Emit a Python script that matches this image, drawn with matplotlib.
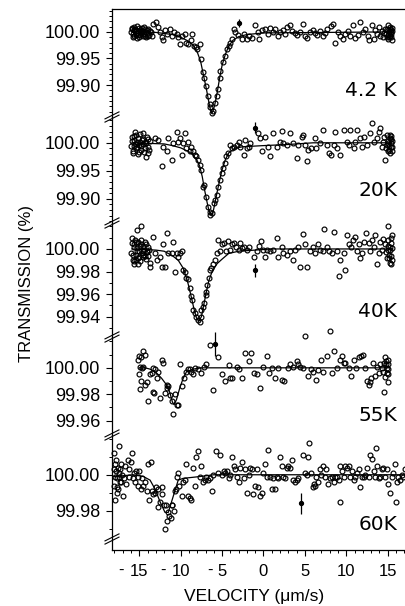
import matplotlib
matplotlib.use('Agg')
import matplotlib.pyplot as plt
from matplotlib.lines import Line2D

plt.rcParams['font.family'] = ['Liberation Sans', 'DejaVu Sans']
plt.rcParams['axes.unicode_minus'] = False

# ---- data: (velocity um/s, transmission %) ----
pts_4K = [(-15.9,100.008),(-15.8,99.996),(-15.7,100.003),(-15.6,99.992),(-15.5,100.006),(-15.4,99.998),
    (-15.3,100.011),(-15.2,99.994),(-15.1,100.002),(-15.0,99.990),(-14.9,100.004),(-14.8,99.997),(-14.7,100.008),
    (-14.6,99.993),(-14.5,100.001),(-14.4,99.996),(-14.3,100.006),(-14.2,99.991),(-14.1,100.003),(-14.0,99.998),
    (-13.9,100.005),(-13.8,99.995),(-13.7,100.002),(-13.6,99.999),(-13.5,99.993),(-13.3,100.015),(-13.0,100.018),
    (-15.95,99.999),(-15.85,100.005),(-15.75,99.990),(-15.65,100.009),(-15.45,99.995),(-15.35,100.002),
    (-15.25,99.988),(-15.05,100.007),(-14.95,99.994),(-14.85,100.001),(-14.65,99.999),(-14.45,100.009),
    (-14.35,99.993),(-14.15,99.999),(-13.95,99.992),
    (-12.8,100.009),(-12.5,99.999),(-12.3,99.990),(-12.1,99.984),(-11.9,100.003),(-11.6,99.996),(-11.3,100.006),
    (-11.1,99.993),(-10.8,99.999),(-10.5,99.996),(-10.3,99.990),(-10.1,99.977),(-9.8,99.993),(-9.5,99.996),
    (-9.4,99.980),(-9.1,99.977),(-8.8,99.984),(-8.6,99.996),(-8.4,99.974),(-8.1,99.971),(-8.0,99.968),(-7.7,99.977),
    (-7.6,99.949),(-7.3,99.924),(-7.2,99.914),(-6.9,99.899),(-6.7,99.880),(-6.5,99.864),(-6.4,99.858),(-6.2,99.847),
    (-6.05,99.851),(-5.85,99.867),(-5.65,99.880),(-5.5,99.892),(-5.3,99.914),(-5.2,99.927),(-4.9,99.943),(-4.7,99.955),
    (-4.4,99.968),(-4.2,99.974),(-4.0,99.980),(-3.8,99.986),(-3.6,100.006),(-3.4,99.999),(-3.1,99.994),
    (-2.6,99.987),(-2.3,99.996),(-2.0,99.987),(-1.7,99.993),(-1.4,99.988),(-1.0,100.012),(-0.7,99.999),(-0.5,99.987),
    (-0.2,100.003),(0.2,100.006),(0.5,99.996),(0.8,100.007),(1.1,99.999),(1.4,100.006),(1.7,99.993),(2.0,99.999),
    (2.3,100.004),(2.6,99.996),(2.9,100.009),(3.2,100.012),(3.5,100.001),(3.8,99.998),(4.1,99.994),(4.4,99.999),
    (4.8,100.015),(5.0,99.993),(5.3,99.988),(5.6,99.999),(6.0,100.003),(6.2,99.998),(6.5,99.994),(6.8,100.001),
    (7.2,99.992),(7.4,99.998),(7.7,100.006),(8.1,100.011),(8.4,100.015),(8.7,99.980),(9.0,99.999),(9.3,99.993),
    (9.6,99.986),(9.9,99.996),(10.2,100.001),(10.5,99.993),(10.8,100.012),(11.1,99.988),(11.4,99.994),(11.7,100.018),
    (12.0,99.999),(12.3,100.006),(12.6,99.992),(12.8,99.984),(13.1,100.013),(13.3,99.986),(13.5,100.004),(13.7,99.996),
    (13.9,100.009),(14.1,99.993),(14.3,100.001),(14.5,99.990),(14.7,100.006),(14.8,99.996),(15.0,99.986),(15.1,100.012),
    (15.2,99.999),(15.3,99.992),(15.4,100.004),(15.5,99.984),(15.4,99.996),(15.0,100.003),(15.2,99.991),(15.5,100.007),
    (14.6,99.997),(14.9,100.005),(15.05,99.994),(15.25,100.006),(15.35,99.999),(15.45,99.990),(15.5,100.002),
    (15.3,100.010),(14.95,99.990)]
fit_4K = [(-15.9,100.000),(-13.0,99.999),(-11.0,99.995),(-10.0,99.990),(-9.0,99.982),(-8.5,99.975),(-8.0,99.962),
    (-7.6,99.945),(-7.2,99.915),(-6.9,99.893),(-6.6,99.868),(-6.4,99.853),(-6.25,99.847),(-6.1,99.851),(-5.9,99.862),
    (-5.6,99.885),(-5.3,99.913),(-5.0,99.937),(-4.6,99.958),(-4.2,99.973),(-3.7,99.984),(-3.0,99.991),(-2.0,99.995),
    (0.0,99.998),(15.5,100.000)]
err_4K = (-3.0, 100.017, 0.007)

pts_20K = [(-15.9,100.004),(-15.8,99.985),(-15.7,100.012),(-15.6,99.994),(-15.5,100.019),(-15.4,99.990),
    (-15.3,100.002),(-15.2,99.980),(-15.1,100.008),(-15.0,99.996),(-14.9,100.015),(-14.8,99.988),(-14.7,100.005),
    (-14.6,99.998),(-14.5,100.018),(-14.4,99.984),(-14.3,100.001),(-14.2,99.974),(-14.1,100.010),(-14.0,99.993),
    (-13.9,100.006),(-13.8,99.987),(-13.7,100.003),
    (-15.95,99.995),(-15.85,100.010),(-15.75,99.982),(-15.65,100.005),(-15.45,99.997),(-15.35,100.014),
    (-15.25,99.992),(-15.05,99.984),(-14.95,100.002),(-14.75,99.994),(-14.55,100.006),(-14.35,99.991),
    (-14.15,100.000),(-13.95,99.982),
    (-13.1,100.008),(-12.7,100.005),(-12.3,99.958),(-12.1,99.993),
    (-11.7,99.985),(-11.5,100.008),(-11.1,99.970),(-10.9,99.999),(-10.5,100.020),(-10.3,100.002),(-10.1,100.008),
    (-9.9,99.979),(-9.7,99.999),(-9.5,100.017),(-9.3,99.990),(-9.1,100.002),(-8.9,99.985),(-8.7,99.993),(-8.5,99.985),
    (-8.3,99.979),(-8.1,99.976),(-7.9,99.970),(-7.7,99.961),(-7.5,99.952),(-7.3,99.922),(-7.2,99.925),(-6.9,99.904),
    (-6.7,99.886),(-6.5,99.877),(-6.4,99.871),(-6.2,99.874),(-6.0,99.892),(-5.85,99.898),(-5.65,99.907),(-5.45,99.922),
    (-5.25,99.934),(-5.0,99.946),(-4.9,99.955),(-4.7,99.964),(-4.5,99.976),(-4.3,99.982),(-4.1,99.996),(-3.8,99.990),
    (-3.5,99.993),(-3.2,99.996),(-3.0,100.002),(-2.8,99.993),(-2.4,99.979),(-2.2,100.005),(-2.0,99.990),(-1.8,99.993),
    (-1.6,99.999),(-0.6,100.017),(-0.4,100.008),(-0.2,99.985),(0.2,100.011),(0.6,99.993),(0.8,99.976),(1.2,100.017),
    (1.6,99.993),(2.0,100.002),(2.2,100.021),(2.4,99.999),(2.8,99.996),(3.2,100.017),(3.6,99.999),(4.0,99.973),
    (4.2,99.996),(4.6,100.011),(4.8,100.014),(5.0,99.996),(5.2,99.967),(5.4,99.988),(5.8,99.990),(6.2,100.008),
    (6.4,99.990),(6.8,99.999),(7.2,100.023),(7.7,99.996),(7.9,99.982),(8.1,99.979),(8.5,99.996),(8.7,100.020),
    (8.9,99.990),(9.3,99.979),(9.7,100.023),(10.1,100.002),(10.3,99.996),(10.5,100.023),(10.9,99.990),(11.1,100.002),
    (11.3,100.023),(11.7,100.008),(11.9,99.993),(12.1,100.011),(12.5,99.996),(12.9,100.017),(13.1,100.035),
    (13.3,100.002),(13.7,100.008),(13.9,100.020),(14.1,100.026),(14.3,99.993),(14.5,100.002),(14.7,99.970),
    (14.9,100.014),(15.1,99.999),(15.3,100.008),(15.5,99.993),(15.2,99.988),(15.0,100.004),(14.8,99.991),
    (15.4,100.012),(15.3,99.982),(14.6,100.010),(15.5,100.003),(15.1,99.985),
    (15.45,99.992),(15.35,100.000),(15.25,100.014),(15.15,99.994),(14.95,99.996),(15.5,99.985),(15.4,100.006)]
fit_20K = [(-15.9,100.000),(-12.0,99.998),(-11.0,99.995),(-10.0,99.991),(-9.0,99.984),(-8.5,99.978),(-8.0,99.968),
    (-7.7,99.958),(-7.4,99.940),(-7.1,99.915),(-6.8,99.893),(-6.6,99.880),(-6.4,99.873),(-6.25,99.872),(-6.1,99.876),
    (-5.9,99.890),(-5.6,99.912),(-5.3,99.933),(-5.0,99.952),(-4.6,99.970),(-4.2,99.982),(-3.5,99.990),(-2.5,99.993),
    (0.0,99.995),(3.0,99.997),(6.0,100.000),(15.5,100.000)]
err_20K = (-1.0, 100.027, 0.010)

pts_40K = [(-15.9,100.005),(-15.8,99.990),(-15.7,100.002),(-15.6,99.987),(-15.5,100.008),(-15.4,99.995),
    (-15.3,100.001),(-15.2,99.992),(-15.1,100.006),(-15.0,99.998),(-14.9,99.989),(-14.8,100.004),(-14.7,99.996),
    (-14.6,100.003),(-14.5,99.993),(-14.4,99.999),(-14.3,100.006),(-14.2,99.991),(-14.1,99.997),(-14.0,100.002),
    (-13.9,99.994),(-13.8,99.999),(-13.7,99.988),(-15.3,100.017),(-14.8,100.020),(-15.7,99.989),(-15.1,99.987),
    (-15.95,99.996),(-15.85,100.010),(-15.75,99.995),(-15.65,100.004),(-15.45,99.990),(-15.35,100.006),
    (-15.25,99.998),(-15.05,99.993),(-14.95,100.003),(-14.75,100.008),(-14.55,99.998),(-14.35,99.994),
    (-14.15,100.004),
    (-14.5,99.995),(-14.1,99.998),(-13.7,99.984),(-13.3,100.011),(-13.1,99.996),(-12.9,99.990),(-12.5,99.993),
    (-12.3,99.984),(-12.1,100.004),(-11.9,99.984),(-11.7,100.014),(-11.5,99.996),(-11.1,99.996),(-10.9,100.006),
    (-10.7,99.980),(-10.5,99.996),(-10.3,99.993),(-10.1,99.996),(-9.9,99.998),(-9.7,99.981),(-9.5,99.980),
    (-9.3,99.974),(-9.1,99.973),(-8.9,99.965),(-8.7,99.958),(-8.6,99.955),(-8.5,99.946),(-8.3,99.943),(-8.1,99.940),
    (-7.9,99.937),(-7.7,99.935),(-7.6,99.940),(-7.5,99.946),(-7.3,99.949),(-7.2,99.952),(-7.0,99.959),(-6.9,99.962),
    (-6.8,99.968),(-6.6,99.974),(-6.5,99.981),(-6.3,99.983),(-6.05,99.987),(-5.85,99.990),(-5.65,99.996),
    (-5.45,100.008),(-5.25,99.998),(-5.05,100.004),(-4.8,100.005),(-4.5,99.998),(-4.3,100.007),(-4.0,99.999),
    (-3.8,100.004),(-3.5,100.005),(-3.3,100.002),(-3.0,99.999),(-2.8,100.005),(-2.6,100.001),(-2.4,100.002),
    (-2.0,99.999),(-1.8,100.002),(-1.2,99.993),(-0.8,99.998),(-0.5,100.003),(-0.3,100.007),(0.0,99.999),(0.2,99.993),
    (0.4,99.999),(0.8,99.998),(1.2,99.999),(1.6,100.010),(1.8,99.993),(2.2,100.002),(2.4,99.996),(2.8,99.995),
    (3.2,99.998),(3.6,99.990),(3.8,99.999),(4.2,100.002),(4.4,99.984),(4.8,100.013),(5.0,100.004),(5.2,99.984),
    (5.6,99.998),(6.0,100.002),(6.2,99.996),(6.6,100.004),(6.8,99.999),(7.2,99.998),(7.3,100.018),(7.7,100.002),
    (7.9,99.998),(8.3,99.996),(8.5,100.015),(8.9,99.998),(9.1,99.976),(9.3,99.990),(9.7,99.996),(9.9,99.981),
    (10.1,100.012),(10.3,100.004),(10.6,100.002),(10.8,100.008),(11.0,100.011),(11.3,99.998),(11.5,100.004),
    (11.7,99.992),(11.9,99.996),(12.2,100.006),(12.4,100.014),(12.7,100.005),(12.9,99.998),(13.1,100.008),
    (13.3,100.002),(13.5,100.012),(13.7,99.987),(13.9,99.996),(14.1,100.006),(14.3,99.999),(14.5,100.009),
    (14.7,100.004),(14.9,99.992),(15.1,100.020),(15.3,99.999),(15.5,99.990),(15.4,100.005),(15.2,99.995),
    (15.0,100.008),(15.5,100.001),(15.3,99.988),(14.8,99.997),(15.1,100.003),
    (15.45,99.994),(15.35,100.010),(15.25,100.002),(15.15,99.992),(15.05,99.999),(15.5,100.012),(15.4,99.987)]
fit_40K = [(-15.9,100.000),(-13.0,99.999),(-12.0,99.998),(-11.0,99.994),(-10.3,99.990),(-9.7,99.983),(-9.2,99.972),
    (-8.8,99.960),(-8.4,99.947),(-8.1,99.939),(-7.8,99.936),(-7.5,99.940),(-7.2,99.951),(-6.9,99.962),(-6.6,99.972),
    (-6.2,99.980),(-5.6,99.987),(-5.0,99.991),(-4.2,99.996),(-3.0,99.998),(-1.0,99.999),(1.0,100.000),(15.5,100.000)]
err_40K = (-1.0, 99.981, 0.006)

pts_55K = [(-15.1,100.006),(-15.0,100.009),(-14.8,100.008),(-14.6,100.013),(-14.3,100.010),(-14.9,100.001),
    (-14.7,100.000),(-14.5,100.001),(-15.0,99.995),(-14.8,99.990),(-14.9,99.984),(-14.3,99.987),(-14.1,99.989),
    (-13.9,99.975),(-13.7,99.995),(-13.5,99.996),(-13.3,100.000),(-13.1,99.999),(-13.4,99.982),(-13.2,99.981),
    (-12.9,99.992),(-12.7,99.997),(-12.5,99.977),(-12.3,100.006),(-12.1,100.004),(-11.9,99.981),(-11.7,99.987),
    (-11.6,99.985),(-11.5,99.986),(-11.3,99.979),(-11.1,99.975),(-10.9,99.965),(-10.7,99.980),(-10.5,99.972),
    (-10.3,99.972),(-10.1,100.003),(-9.9,99.986),(-9.6,99.992),(-9.3,99.997),(-9.1,99.999),(-8.9,99.999),
    (-8.7,99.997),(-8.5,99.995),(-8.3,100.000),(-7.9,99.999),(-7.5,99.996),(-7.2,100.001),(-6.9,100.003),
    (-6.5,100.017),(-6.05,99.983),(-5.45,100.008),(-5.05,99.995),(-4.6,99.990),(-4.2,100.002),(-4.0,99.992),
    (-3.8,99.992),(-3.2,100.001),(-2.9,99.999),(-2.6,99.992),(-2.2,100.011),(-1.8,100.005),(-1.5,100.011),
    (-1.2,99.996),(-0.8,99.995),(-0.4,99.985),(0.0,100.001),(0.4,100.009),(0.7,99.996),(1.0,100.000),(1.4,99.992),
    (1.8,100.000),(2.2,99.991),(2.5,99.990),(3.0,100.000),(3.2,100.003),(3.6,100.001),(4.0,100.005),(4.2,100.003),
    (4.4,100.001),(4.8,100.000),(5.0,100.024),(5.4,99.994),(5.7,99.999),(6.0,99.997),(6.4,99.991),(6.6,99.998),
    (7.0,100.006),(7.2,99.997),(7.7,100.009),(8.0,100.028),(8.3,99.996),(8.5,100.013),(8.9,100.000),(9.2,100.006),
    (9.5,100.009),(9.7,100.004),(9.9,100.004),(10.3,100.000),(10.6,99.994),(10.9,100.006),(11.2,100.000),
    (11.6,100.008),(11.8,100.009),(12.0,100.010),(12.3,100.000),(12.5,99.990),(12.7,99.987),(12.9,99.989),
    (13.0,99.992),(13.2,100.004),(13.5,99.994),(13.7,100.001),(13.9,99.996),(14.1,100.003),(14.3,100.000),
    (14.4,99.997),(14.6,100.004),(14.7,100.008),(14.8,100.003),(14.9,100.000),(15.0,99.999),(15.1,99.995),
    (14.6,99.982),(15.0,99.989),(14.8,100.005),(15.05,100.003),(14.95,99.996),(15.1,100.006),(14.7,99.993)]
fit_55K = [(-15.0,100.000),(-14.3,100.000),(-13.7,99.999),(-12.9,99.996),(-12.3,99.992),(-11.7,99.987),
    (-11.3,99.981),(-11.0,99.974),(-10.8,99.972),(-10.5,99.976),(-10.1,99.985),(-9.7,99.992),(-9.3,99.997),
    (-8.5,99.999),(-7.5,100.000),(15.2,100.000)]
err_55K = (-5.85, 100.018, 0.009)

pts_60K = [(-18.1,100.012),(-17.9,100.006),(-17.8,100.002),(-17.7,99.998),(-18.0,99.994),(-17.7,99.990),
    (-17.9,99.986),(-17.5,99.999),(-17.4,100.016),(-17.3,100.003),(-17.2,99.996),(-17.1,100.000),(-17.0,99.988),
    (-18.05,100.003),(-17.95,99.999),(-17.85,100.008),(-17.75,99.993),(-17.6,100.004),(-17.55,99.992),
    (-17.45,100.001),(-17.35,99.996),(-17.25,100.006),
    (-16.9,99.998),(-16.7,100.005),(-16.6,99.995),(-16.4,100.008),(-16.3,99.999),(-16.2,100.003),(-16.0,100.007),
    (-15.9,100.012),(-15.8,99.998),(-15.6,100.001),(-15.5,99.996),(-15.4,100.002),(-15.2,99.999),(-15.1,99.994),
    (-15.0,100.002),(-14.8,99.992),(-14.7,99.998),(-14.5,99.994),(-14.3,99.996),(-14.1,99.991),(-13.9,100.006),
    (-13.8,99.986),(-13.6,100.007),(-13.5,99.991),(-13.3,99.989),(-13.1,99.990),(-13.0,99.993),(-12.8,99.992),
    (-12.7,99.982),(-12.5,99.985),(-12.3,99.993),(-12.2,99.989),(-12.0,99.983),(-11.9,99.970),(-11.8,99.983),
    (-11.7,99.974),(-11.5,99.979),(-11.4,99.977),(-11.2,99.976),(-11.1,99.983),(-11.0,99.983),(-10.8,99.980),
    (-10.7,99.991),(-10.6,99.992),(-10.5,99.999),(-10.3,100.001),(-10.2,99.994),(-9.9,99.988),(-9.7,99.996),
    (-9.5,99.997),(-9.3,100.006),(-9.1,99.988),(-8.9,99.987),(-8.7,99.986),(-8.5,100.004),(-8.3,99.994),
    (-8.1,100.010),(-7.9,100.013),(-7.7,99.999),(-7.5,100.005),(-7.3,99.996),(-7.1,99.997),(-6.9,99.999),
    (-6.7,99.997),(-6.5,99.998),(-6.25,99.991),(-6.05,100.000),(-5.7,100.013),(-5.45,100.001),(-5.25,100.011),
    (-5.05,100.000),(-4.8,100.002),(-4.6,100.001),(-4.4,100.002),(-4.2,99.998),(-4.0,100.000),(-3.8,100.010),
    (-3.6,100.005),(-3.4,100.003),(-3.2,99.999),(-3.0,99.996),(-2.8,100.004),(-2.6,100.007),(-2.4,99.998),
    (-2.2,100.003),(-2.0,99.990),(-1.8,100.000),(-1.6,100.004),(-1.4,100.003),(-1.3,99.989),(-1.0,99.994),
    (-0.8,100.003),(-0.6,99.993),(-0.4,99.988),(-0.2,99.990),(0.0,100.001),(0.2,100.006),(0.4,99.999),(0.6,100.014),
    (0.8,99.999),(1.0,99.992),(1.2,99.998),(1.4,99.992),(1.6,99.999),(1.8,99.998),(2.0,100.010),(2.2,100.005),
    (2.4,99.999),(2.6,99.998),(2.8,100.004),(3.0,100.005),(3.2,100.004),(3.4,100.008),(3.6,99.997),(3.8,99.996),
    (4.0,99.997),(4.2,99.998),(4.8,100.011),(5.0,100.001),(5.2,100.000),(5.4,100.010),(5.5,100.018),(5.7,100.001),
    (6.0,99.993),(6.1,99.995),(6.2,99.994),(6.4,99.999),(6.6,99.996),(6.8,100.003),(7.0,100.000),(7.2,100.005),
    (7.4,99.999),(7.6,100.003),(7.8,99.995),(8.0,99.998),(8.3,99.999),(8.5,99.996),(8.7,99.999),(8.9,99.999),
    (9.1,99.997),(9.2,99.985),(9.3,100.005),(9.5,100.002),(9.7,99.999),(9.9,100.005),(10.1,100.004),(10.3,100.005),
    (10.5,99.999),(10.7,100.002),(10.9,99.997),(11.1,99.999),(11.3,100.001),(11.5,100.003),(11.7,99.993),
    (11.9,99.999),(12.1,99.999),(12.3,100.000),(12.5,100.004),(12.7,99.999),(12.9,100.011),(13.1,100.009),
    (13.3,100.002),(13.5,99.999),(13.6,100.015),(13.7,100.005),(13.9,99.998),(14.1,99.999),(14.3,100.003),
    (14.5,100.004),(14.7,99.999),(14.9,100.003),(15.1,99.995),(15.3,99.990),(15.5,99.999),(15.7,100.001),
    (15.9,100.006),(16.0,99.985),(16.1,99.996),(16.3,99.999),(16.5,99.997),(16.7,100.000),(16.9,99.999),
    (17.1,100.003)]
fit_60K = [(-18.1,99.999),(-15.7,100.000),(-14.5,99.999),(-13.7,99.997),(-13.1,99.992),(-12.5,99.985),
    (-11.9,99.979),(-11.5,99.979),(-11.1,99.985),(-10.7,99.991),(-10.3,99.997),(-9.7,99.998),(-7.7,99.999),
    (-6.0,100.000),(17.2,100.000)]
err_60K = (4.5, 99.984, 0.006)

temps = ['4.2 K', '20K', '40K', '55K', '60K']
ylims = [(99.84, 100.043), (99.857, 100.046), (99.922, 100.023), (99.949, 100.0234), (99.958, 100.0222)]
major_ticks = [[100.00, 99.95, 99.90], [100.00, 99.95, 99.90], [100.00, 99.98, 99.96, 99.94],
               [100.00, 99.98, 99.96], [100.00, 99.98]]
minor_ticks = [[100.04 - 0.01 * i for i in range(20)], [100.04 - 0.01 * i for i in range(19)],
               [100.02 - 0.01 * i for i in range(10)], [100.02 - 0.01 * i for i in range(7)],
               [100.02 - 0.01 * i for i in range(6)]]
x_ticks = [-15, -10, -5, 0, 5, 10, 15]

panels = [(pts_4K, fit_4K, err_4K), (pts_20K, fit_20K, err_20K), (pts_40K, fit_40K, err_40K),
          (pts_55K, fit_55K, err_55K), (pts_60K, fit_60K, err_60K)]

# ---- layout (pixel edges of the stacked panels) ----
W, H = 405, 606
left = 112
edges = [9, 117, 223, 337, 435, 550]
label_y = [0.25, 0.31, 0.22, 0.20, 0.22]

fig = plt.figure(figsize=(W / 100, H / 100), dpi=100)

axes = []
for i in range(5):
    top, bot = edges[i], edges[i + 1]
    ax = fig.add_axes([left / W, 1 - bot / H, (W - left) / W, (bot - top) / H])
    axes.append(ax)
    pts, fit, err = panels[i]
    ax.plot([p[0] for p in fit], [p[1] for p in fit], color='black', lw=0.9, clip_on=False)
    ax.plot([p[0] for p in pts], [p[1] for p in pts], 'o', ms=3.5, mfc='none', mec='black',
            mew=0.85, clip_on=False)
    ax.errorbar(err[0], err[1], yerr=err[2], fmt='o', ms=2.8, color='black', elinewidth=0.9,
                capsize=0, clip_on=False)
    ax.set_xlim(-18.3, 17.1)
    ax.set_ylim(*ylims[i])
    for s in ['right', 'top', 'bottom']:
        ax.spines[s].set_visible(False)
    ax.spines['left'].set_linewidth(0.9)
    ax.set_yticks(major_ticks[i])
    ax.set_yticklabels(['%.2f' % t for t in major_ticks[i]])
    ax.set_yticks([t for t in minor_ticks[i] if ylims[i][0] < t < ylims[i][1]], minor=True)
    ax.tick_params(axis='y', which='major', direction='out', length=4.5, width=0.8, pad=4, labelsize=13)
    ax.tick_params(axis='y', which='minor', direction='out', length=2.5, width=0.7)
    ax.set_xticks([])
    ax.patch.set_visible(False)
    ax.text(0.973, label_y[i], temps[i], transform=ax.transAxes, ha='right', va='center',
            fontsize=14.5, family='DejaVu Sans')

axes[0].spines['top'].set_visible(True)
axes[0].spines['top'].set_linewidth(0.9)

ax5 = axes[4]
ax5.spines['bottom'].set_visible(True)
ax5.spines['bottom'].set_linewidth(0.9)
ax5.set_xticks(x_ticks)
ax5.set_xticklabels([str(abs(t)) for t in x_ticks])
ax5.set_xticks(range(-18, 18), minor=True)
ax5.tick_params(axis='x', which='major', direction='out', length=4, width=0.8, pad=6, labelsize=12)
ax5.tick_params(axis='x', which='minor', direction='out', length=2.5, width=0.7)
for t in x_ticks:
    if t < 0:
        dx = -11 if abs(t) >= 10 else -7
        ax5.annotate('-', xy=(t, 0), xycoords=('data', 'axes fraction'), xytext=(dx, -9.5),
                     textcoords='offset points', ha='right', va='top', fontsize=12)

# axis break marks on the y axis
for yb in [117, 223, 337, 435, 539]:
    for off in (-1.6, 1.6):
        x0, y0 = left - 7, yb + 3.5 + off
        x1, y1 = left + 7, yb - 3.5 + off
        fig.add_artist(Line2D([x0 / W, x1 / W], [1 - y0 / H, 1 - y1 / H], transform=fig.transFigure,
                              color='black', lw=0.8))

fig.text(27 / W, 1 - 283 / H, 'TRANSMISSION (%)', rotation=90, ha='center', va='center',
         fontsize=12, family=['Liberation Sans Narrow', 'Liberation Sans'])
fig.text(254 / W, 1 - 596 / H, 'VELOCITY (\u03bcm/s)', ha='center', va='center',
         fontsize=12.5, family=['Liberation Sans Narrow', 'Liberation Sans'])

fig.savefig('out.png', dpi=100)
